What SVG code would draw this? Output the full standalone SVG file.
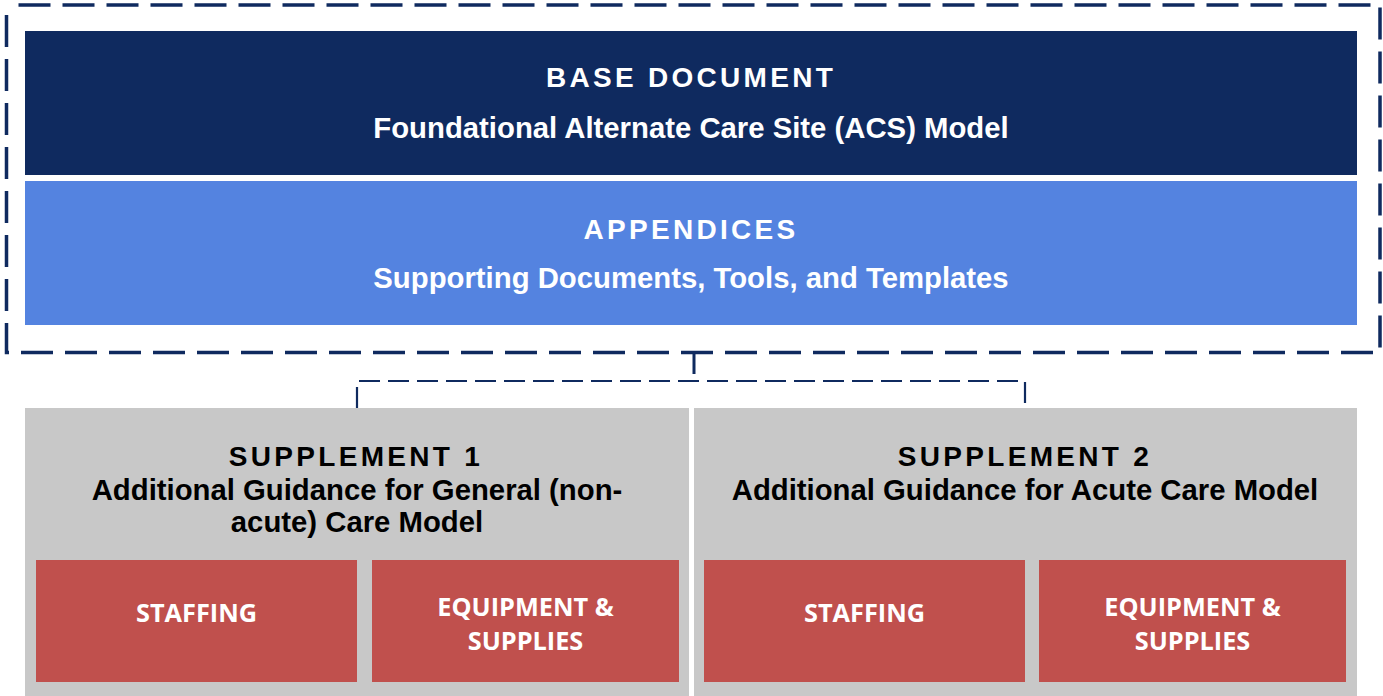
<svg xmlns="http://www.w3.org/2000/svg" width="1383" height="696" viewBox="0 0 1383 696">
<style>
.title{font-family:"Liberation Sans",Arial,sans-serif;font-weight:700;font-size:28px;letter-spacing:3.3px;text-anchor:middle}
.body{font-family:"Liberation Sans",Arial,sans-serif;font-weight:700;font-size:29.3px;text-anchor:middle}
.red{font-family:"Open Sans",sans-serif;font-weight:700;font-size:25.3px;fill:#fff;text-anchor:middle}
.w{fill:#fff}
.k{fill:#000}
.redbox{fill:#C0504D}
.gray{fill:#C8C8C8}
.dash{fill:none;stroke:#0F2A5F}
</style>
<rect width="1383" height="696" fill="#fff"/>
<g id="group-outer">
<rect class="dash" x="6.5" y="5" width="1373.5" height="347.5" stroke-width="3.5" stroke-dasharray="32 12" stroke-dashoffset="-12"/>
</g>
<g id="base-document">
<rect x="25" y="31" width="1332" height="144" fill="#0F2A5F"/>
<text class="title w" x="691" y="87">BASE DOCUMENT</text>
<text class="body w" x="691" y="138">Foundational Alternate Care Site (ACS) Model</text>
</g>
<g id="appendices">
<rect x="25" y="181" width="1332" height="144" fill="#5483E0"/>
<text class="title w" x="691" y="239">APPENDICES</text>
<text class="body w" x="691" y="288">Supporting Documents, Tools, and Templates</text>
</g>
<g id="connectors">
<line class="dash" x1="694" y1="353" x2="694" y2="374" stroke-width="3"/>
<path class="dash" d="M357,408 V381 H1025 V408" stroke-width="2.2" stroke-dasharray="21 8"/>
</g>
<g id="supplement-1">
<rect class="gray" x="25" y="408" width="664" height="288"/>
<text class="title k" x="356" y="466">SUPPLEMENT 1</text>
<text class="body k" x="357" y="500">Additional Guidance for General (non-</text>
<text class="body k" x="357" y="532">acute) Care Model</text>
</g>
<g id="supplement-2">
<rect class="gray" x="694" y="408" width="663" height="288"/>
<text class="title k" x="1025" y="466">SUPPLEMENT 2</text>
<text class="body k" x="1025" y="500">Additional Guidance for Acute Care Model</text>
</g>
<g id="s1-staffing">
<rect class="redbox" x="36" y="560" width="321" height="122"/>
<text class="red" x="196.5" y="622">STAFFING</text>
</g>
<g id="s1-equipment">
<rect class="redbox" x="372" y="560" width="307" height="122"/>
<text class="red" x="525.5" y="616">EQUIPMENT &amp;</text>
<text class="red" x="525.5" y="650">SUPPLIES</text>
</g>
<g id="s2-staffing">
<rect class="redbox" x="704" y="560" width="321" height="122"/>
<text class="red" x="864.5" y="622">STAFFING</text>
</g>
<g id="s2-equipment">
<rect class="redbox" x="1039" y="560" width="307" height="122"/>
<text class="red" x="1192.5" y="616">EQUIPMENT &amp;</text>
<text class="red" x="1192.5" y="650">SUPPLIES</text>
</g>
</svg>
